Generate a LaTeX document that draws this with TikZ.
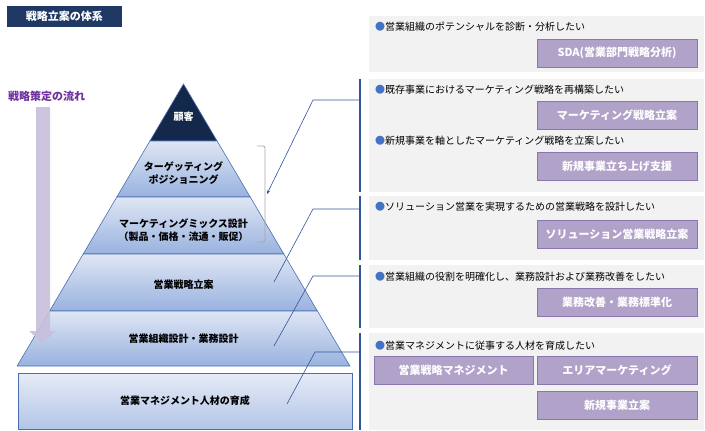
\documentclass[tikz,border=0pt]{standalone}
\usepackage{fontspec}
\setmainfont{Noto Sans CJK JP}
\usetikzlibrary{arrows.meta}
\definecolor{navy}{HTML}{1F3864}
\definecolor{apex}{HTML}{14284B}
\definecolor{lyrlt}{HTML}{DFE6F4}
\definecolor{lyrdk}{HTML}{99B2DF}
\definecolor{edgec}{HTML}{4A6EB0}
\definecolor{panelc}{HTML}{F2F2F2}
\definecolor{barc}{HTML}{2F5597}
\definecolor{btnc}{HTML}{B1A2C9}
\definecolor{btnb}{HTML}{8A76AE}
\definecolor{arrowc}{HTML}{C9BFDB}
\definecolor{purplet}{HTML}{7030A0}
\definecolor{bulletc}{HTML}{4472C4}
\definecolor{brackc}{HTML}{A6A6A6}
\tikzset{
  layer/.style={draw=edgec, line width=0.6pt, top color=lyrlt, bottom color=lyrdk},
  pyr/.style={font=\fontsize{10}{13}\bfseries\selectfont, align=center, inner sep=0pt},
  panel/.style={fill=panelc, draw=none, minimum width=335, inner sep=0pt},
  btn/.style={fill=btnc, draw=btnb, line width=0.6pt, text=white, minimum width=160, minimum height=28, inner sep=0pt, font=\fontsize{11}{13}\bfseries\selectfont},
  bul/.style={anchor=west, inner sep=0pt, font=\fontsize{10}{12}\selectfont},
  bar/.style={draw=barc, line width=1.6pt},
  conn/.style={draw=barc, line width=0.6pt},
}
\newcommand{\blt}{{\color{bulletc}●}}
\begin{document}
\begin{tikzpicture}[x=1pt,y=-1pt]
\useasboundingbox (0,0) rectangle (705,431);
% title
\node[fill=navy, text=white, minimum width=115, minimum height=21, inner sep=0pt, font=\fontsize{11}{13}\bfseries\selectfont] (title) at (64.5,16.5) {戦略立案の体系};
\node[anchor=west, inner sep=0pt, text=purplet, font=\fontsize{11}{13}\bfseries\selectfont] (flow) at (8,96) {戦略策定の流れ};
% pyramid
\path[fill=apex, draw=edgec, line width=0.6pt] (183.5,84) -- (217.1,141) -- (149.9,141) -- cycle;
\path[layer] (149.9,141) -- (217.1,141) -- (250.2,197) -- (116.8,197) -- cycle;
\path[layer] (116.8,197) -- (250.2,197) -- (283.8,254) -- (83.2,254) -- cycle;
\path[layer] (83.2,254) -- (283.8,254) -- (317.4,311) -- (49.6,311) -- cycle;
\path[layer] (49.6,311) -- (317.4,311) -- (349.9,366) -- (17.1,366) -- cycle;
\node[draw=edgec, line width=0.8pt, top color=lyrlt!80!white, bottom color=lyrdk!75!white, minimum width=334, minimum height=56, inner sep=0pt] (L6) at (185,401) {};
% flow arrow
\fill[arrowc, opacity=0.92] (36,107) -- (50,107) -- (50,331) -- (56,331) -- (42.5,343) -- (29,331) -- (36,331) -- cycle;
% pyramid texts
\node[pyr, text=white] (t1) at (183.5,117) {顧客};
\node[pyr] (t2) at (183.5,173) {ターゲッティング\\ポジショニング};
\node[pyr] (t3) at (183.5,230) {マーケティングミックス設計\\（製品・価格・流通・販促）};
\node[pyr] (t4) at (183.5,285) {営業戦略立案};
\node[pyr] (t5) at (183.5,339) {営業組織設計・業務設計};
\node[pyr] (t6) at (L6.center) {営業マネジメント人材の育成};
% bracket
\draw[brackc, line width=0.8pt, rounded corners=2pt] (257,146) -- (265,146) -- (265,242) -- (257,242);
% panels
\node[panel, minimum height=56, anchor=north west] (p1) at (369,16) {};
\node[panel, minimum height=113, anchor=north west] (p2) at (369,79) {};
\node[panel, minimum height=64, anchor=north west] (p3) at (369,196) {};
\node[panel, minimum height=63, anchor=north west] (p4) at (369,265) {};
\node[panel, minimum height=97, anchor=north west] (p5) at (369,333) {};
% bars
\coordinate (b2t) at (360,79); \coordinate (b2b) at (360,192);
\coordinate (b3t) at (360,196); \coordinate (b3b) at (360,260);
\coordinate (b4t) at (360,265); \coordinate (b4b) at (360,328);
\coordinate (b5t) at (360,333); \coordinate (b5b) at (360,430);
\path[bar] (b2t) -- (b2b);
\path[bar] (b3t) -- (b3b);
\path[bar] (b4t) -- (b4b);
\path[bar] (b5t) -- (b5b);
% connectors
\coordinate (c1s) at (267,194); \coordinate (c1m) at (313,100);
\coordinate (c2s) at (274,282); \coordinate (c2m) at (313,209);
\coordinate (c3s) at (274,346); \coordinate (c3m) at (313,276);
\coordinate (c4s) at (287,404); \coordinate (c4m) at (315,352);
\draw[conn, {Stealth[length=4pt,width=3pt]}-] (c1s) -- (c1m) -- (c1m -| b2t);
\draw[conn] (c2s) -- (c2m) -- (c2m -| b3t);
\draw[conn] (c3s) -- (c3m) -- (c3m -| b4t);
\draw[conn] (c4s) -- (c4m) -- (c4m -| b5t);
% bullet texts
\node[bul] (q1) at (375,27) {\blt 営業組織のポテンシャルを診断・分析したい};
\node[bul] (q2) at (375,90) {\blt 既存事業におけるマーケティング戦略を再構築したい};
\node[bul] (q3) at (375,141) {\blt 新規事業を軸としたマーケティング戦略を立案したい};
\node[bul] (q4) at (375,207) {\blt ソリューション営業を実現するための営業戦略を設計したい};
\node[bul] (q5) at (375,277) {\blt 営業組織の役割を明確化し、業務設計および業務改善をしたい};
\node[bul] (q6) at (375,346) {\blt 営業マネジメントに従事する人材を育成したい};
% buttons
\node[btn] (s1) at (617,53) {SDA(営業部門戦略分析)};
\node[btn] (s2) at (617,115) {マーケティング戦略立案};
\node[btn] (s3) at (617,166) {新規事業立ち上げ支援};
\node[btn] (s4) at (617,234) {ソリューション営業戦略立案};
\node[btn] (s5) at (617,302.5) {業務改善・業務標準化};
\node[btn, minimum width=159] (s6) at (453.5,370.5) {営業戦略マネジメント};
\node[btn] (s7) at (617,370.5) {エリアマーケティング};
\node[btn] (s8) at (617,405) {新規事業立案};
\end{tikzpicture}
\end{document}
